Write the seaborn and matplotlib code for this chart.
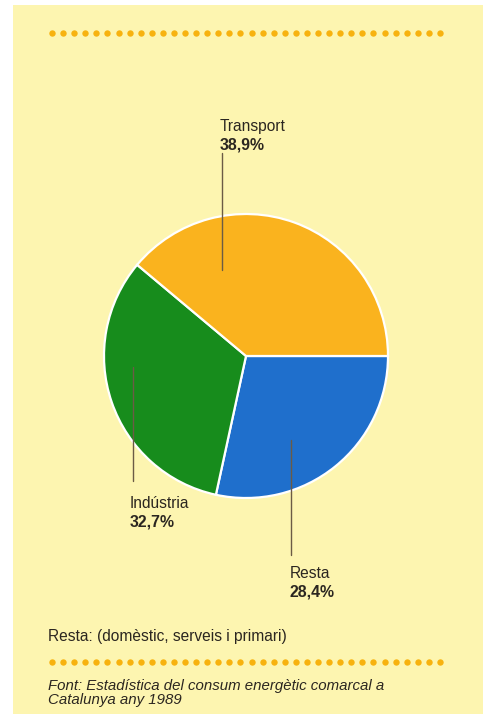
import matplotlib
matplotlib.use("Agg")
import matplotlib.pyplot as plt
import seaborn as sns
import numpy as np

# Data
categories = ["Resta", "Indústria", "Transport"]
values = [28.4, 32.7, 38.9]
value_labels = ["28,4%", "32,7%", "38,9%"]
colors = ["#1F6FCC", "#178C1C", "#FAB31E"]
note = "Resta: (domèstic, serveis i primari)"
source = "Font: Estadística del consum energètic comarcal a\nCatalunya any 1989"

sns.set_theme(style="white")
plt.rcParams['font.family'] = ['Liberation Sans', 'DejaVu Sans']

W, H = 483, 714
fig = plt.figure(figsize=(W / 100, H / 100), dpi=100)
fig.patch.set_facecolor("white")
ax = fig.add_axes([0, 0, 1, 1])
ax.set_xlim(0, W)
ax.set_ylim(H, 0)
ax.set_aspect("equal")
ax.axis("off")

# yellow panel
ax.add_patch(plt.Rectangle((13, 5), W - 13, H - 5, facecolor="#FDF5B0", edgecolor="none", zorder=0))

# dotted rules
dot_color = "#F7B20F"
for y in (33, 662):
    xs = np.linspace(52, 440, 36)
    ax.plot(xs, [y] * len(xs), linestyle="none", marker="o", markersize=4.6,
            color=dot_color, markeredgewidth=0, zorder=2)

# pie (y inverted -> counterclock=True draws clockwise on screen)
ax.pie(values, colors=colors, startangle=0, counterclock=True,
       center=(246, 356), radius=142, frame=True,
       wedgeprops=dict(edgecolor="white", linewidth=1.6))
ax.set_xlim(0, W)
ax.set_ylim(H, 0)
ax.axis("off")

# leader lines and labels
line_color = "#6B5B45"
label_specs = {
    "Transport": dict(line=((222, 153), (222, 270)), text=(220, 126)),
    "Indústria": dict(line=((133, 367), (133, 481)), text=(130, 503)),
    "Resta": dict(line=((291, 440), (291, 555)), text=(290, 573)),
}
text_color = "#2B2620"
for cat, lab in zip(categories, value_labels):
    spec = label_specs[cat]
    (x0, y0), (x1, y1) = spec["line"]
    ax.plot([x0, x1], [y0, y1], color=line_color, linewidth=1.0, zorder=5)
    tx, ty = spec["text"]
    ax.text(tx, ty, cat, fontsize=11.2, color=text_color, ha="left", va="center")
    ax.text(tx, ty + 19, lab, fontsize=11.4, fontweight="bold", color=text_color,
            ha="left", va="center")

ax.text(48, 636, note, fontsize=11.2, color=text_color, ha="left", va="center")
ax.text(48, 693, source, fontsize=10.8, style="italic", color=text_color,
        ha="left", va="center", linespacing=0.95)

fig.savefig("out.png", dpi=100, facecolor="white")
